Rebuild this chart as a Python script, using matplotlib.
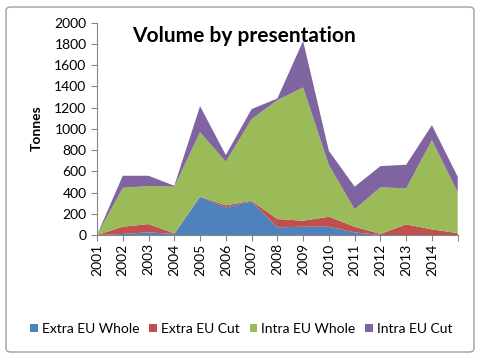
import matplotlib
matplotlib.use("Agg")
import matplotlib.pyplot as plt
from matplotlib.patches import FancyBboxPatch

plt.rcParams['font.family'] = ['Lato', 'DejaVu Sans']

years = ['2001', '2002', '2003', '2004', '2005', '2006', '2007', '2008',
         '2009', '2010', '2011', '2012', '2013', '2014', '']
extra_whole = [0, 10, 25, 10, 360, 260, 317, 72, 78, 78, 25, 0, 0, 0, 0]
extra_cut = [0, 68, 78, 5, 2, 19, 6, 78, 57, 94, 53, 10, 100, 53, 18]
intra_whole = [0, 367, 358, 440, 607, 411, 769, 1120, 1255, 487, 164, 439, 339, 841, 384]
intra_cut = [0, 113, 97, 9, 245, 63, 94, 16, 438, 134, 213, 200, 223, 141, 147]

names = ['Extra EU Whole', 'Extra EU Cut', 'Intra EU Whole', 'Intra EU Cut']
colors = ['#4F81BD', '#C0504D', '#9BBB59', '#8064A2']

fig = plt.figure(figsize=(4.83, 3.61), dpi=100)
ax = fig.add_axes([97 / 483, 1 - 235 / 361, (457.7 - 97) / 483, (235 - 22.7) / 361])

x = list(range(len(years)))
ax.stackplot(x, extra_whole, extra_cut, intra_whole, intra_cut,
             colors=colors, labels=names, linewidth=0)

ax.set_xlim(0, len(years) - 1)
ax.set_ylim(0, 2000)
ax.set_yticks(range(0, 2001, 200))
ax.set_xticks(x)
ax.set_xticklabels(years, rotation=90)
ax.tick_params(labelsize=10, color='#868686', length=4, width=0.8)
ax.tick_params(axis='x', pad=2)

for s in ['top', 'right']:
    ax.spines[s].set_visible(False)
for s in ['left', 'bottom']:
    ax.spines[s].set_color('#868686')
    ax.spines[s].set_linewidth(0.8)

fig.text(244 / 483, 1 - 36 / 361, 'Volume by presentation', fontsize=15,
         fontweight='bold', ha='center', va='center')
fig.text(37 / 483, 1 - 128 / 361, 'Tonnes', fontsize=10, fontweight='bold',
         rotation=90, ha='center', va='center')

handles, labels = ax.get_legend_handles_labels()
fig.legend(handles, labels, loc='center', bbox_to_anchor=(0.5, 1 - 329 / 361),
           ncol=4, frameon=False, fontsize=10, handlelength=0.55, handleheight=0.55,
           handletextpad=0.3, columnspacing=0.7)

border = FancyBboxPatch((6 / 483, 1 - 352 / 361), 468 / 483, 345 / 361,
                        boxstyle='round,pad=0,rounding_size=0.01',
                        transform=fig.transFigure, facecolor='none',
                        edgecolor='#A0A0A0', linewidth=1)
fig.patches.append(border)

fig.savefig('out.png', dpi=100)
